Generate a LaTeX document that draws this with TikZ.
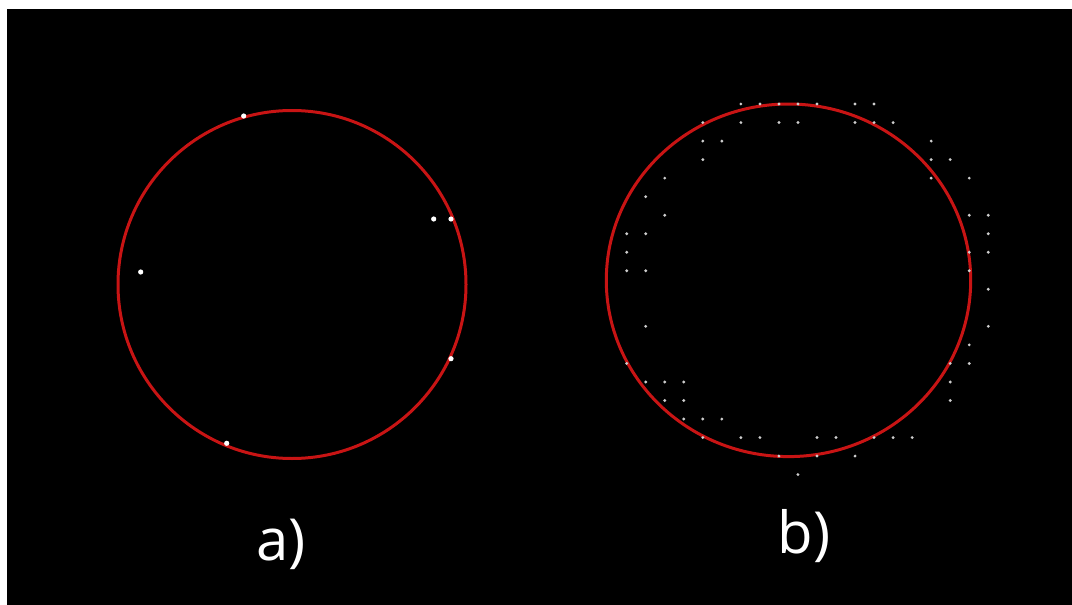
\documentclass[tikz,border=0pt]{standalone}
\usepackage{fontspec}
\setmainfont{Open Sans}
\usetikzlibrary{positioning}
\definecolor{ringred}{RGB}{200,20,20}
\definecolor{dotgray}{RGB}{205,205,205}

\begin{document}
\begin{tikzpicture}[
  x=0.5pt, y=-0.5pt,
  ring/.style={draw=ringred, line width=1.5pt},
  bigdot/.style={fill=white},
  smalldot/.style={fill=dotgray},
  caption/.style={text=white, anchor=base, font=\fontsize{29}{29}\selectfont}
]

\useasboundingbox[fill=white] (0,0) rectangle (1072,605);
\fill[black] (7,9) rectangle (1072,605);

% left panel
\draw[ring] (292,284.5) circle[radius=174];
\foreach \px/\py in {243.7/116, 433.7/219, 451/219, 140.7/272, 451/358.7, 226.7/443.3}
  \fill[bigdot] (\px,\py) circle[radius=2.6];
\node[caption] (capa) at (281,560) {a)};

% right panel
\draw[ring] (788.5,280.3) ellipse[x radius=182.2, y radius=176.3];
\foreach \i/\j in {6/0, 7/0, 8/0, 9/0, 10/0, 12/0, 13/0,
    4/1, 6/1, 8/1, 9/1, 12/1, 13/1, 14/1,
    4/2, 5/2, 16/2,
    4/3, 16/3, 17/3,
    2/4, 16/4, 18/4,
    1/5,
    2/6, 18/6, 19/6,
    0/7, 1/7, 19/7,
    0/8, 18/8, 19/8,
    0/9, 1/9, 18/9,
    19/10,
    1/12, 19/12,
    18/13,
    0/14, 17/14, 18/14,
    1/15, 2/15, 3/15, 17/15,
    2/16, 3/16, 17/16,
    3/17, 4/17, 5/17,
    4/18, 6/18, 7/18, 10/18, 11/18, 13/18, 14/18, 15/18,
    8/19, 10/19, 12/19,
    9/20}
  \fill[smalldot] ({626.7+19.03*\i},{104+18.53*\j}) circle[radius=1.6];
\node[caption] (capb) at (804,553) {b)};

\end{tikzpicture}
\end{document}
